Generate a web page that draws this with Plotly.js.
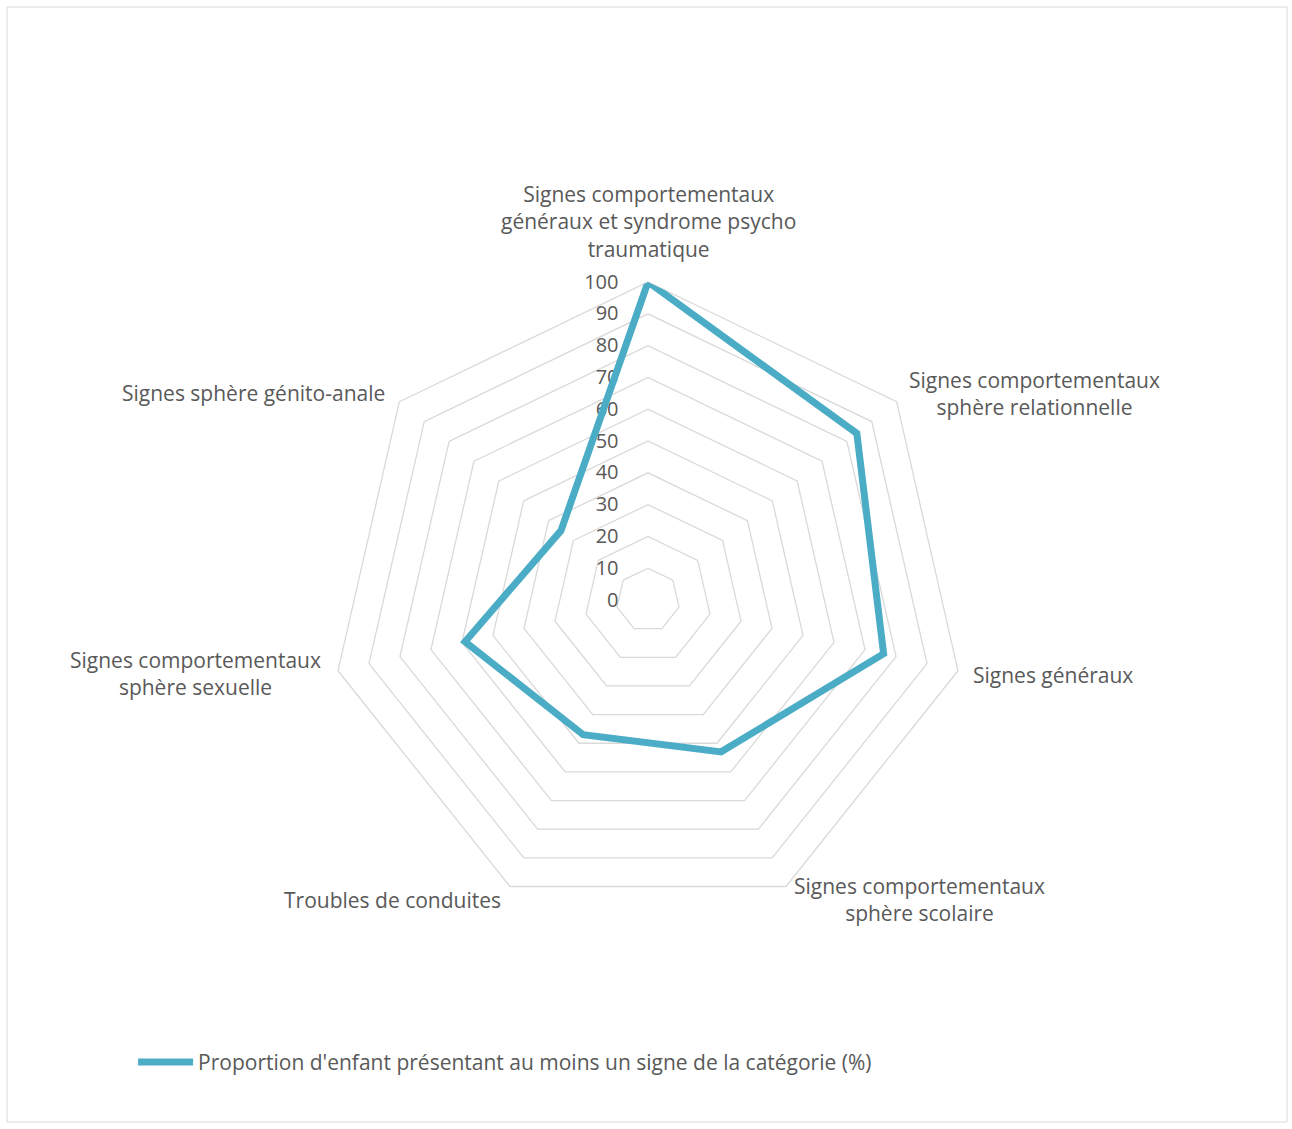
<!DOCTYPE html>
<html>
<head>
<meta charset="utf-8">
<script src="https://cdn.plot.ly/plotly-3.0.1.min.js"></script>
<style>html,body{margin:0;padding:0;background:#fff;}#chart{width:1292px;height:1129px;}</style>
</head>
<body>
<div id="chart"></div>
<script>
const categories = [
  "Signes comportementaux<br>généraux et syndrome psycho<br>traumatique",
  "Signes comportementaux<br>sphère relationnelle",
  "Signes généraux",
  "Signes comportementaux<br>sphère scolaire",
  "Troubles de conduites",
  "Signes comportementaux<br>sphère sexuelle",
  "Signes sphère génito-anale"
];
const values = [100, 84, 76, 53, 47, 59, 35];
const seriesName = "Proportion d'enfant présentant au moins un signe de la catégorie (%)";
const radialTicks = [0, 10, 20, 30, 40, 50, 60, 70, 80, 90, 100];

// geometry of the polar area (pixels)
const W = 1292, H = 1129;
const CX = 648, CY = 600, R = 318;
// label placement styles: [dx, dy, xanchor, yanchor] relative to outer vertex
const labelStyle = [
  [0, -17, 'center', 'bottom'],
  [10, -8, 'left', 'middle'],
  [13, 4, 'left', 'middle'],
  [6, 13, 'left', 'middle'],
  [-7, 13, 'right', 'middle'],
  [-15, 3, 'right', 'middle'],
  [-12, -9, 'right', 'middle']
];

const annotations = categories.map((c, i) => {
  const a = i * 2 * Math.PI / categories.length;
  const vx = CX + R * Math.sin(a), vy = CY - R * Math.cos(a);
  const s = labelStyle[i];
  return {
    text: c, showarrow: false, xref: 'paper', yref: 'paper',
    x: (vx + s[0]) / W, y: 1 - (vy + s[1]) / H,
    xanchor: s[2], yanchor: s[3], align: 'center',
    font: {size: 21, color: '#595959'}
  };
});

// close the loop (repeat first two points so the join at the top vertex is mitred)
const trace = {
  type: 'scatterpolar',
  mode: 'lines',
  r: values.concat(values.slice(0, 2)),
  theta: categories.concat(categories.slice(0, 2)),
  name: seriesName,
  line: {color: '#4bacc6', width: 7, shape: 'linear'},
  cliponaxis: false,
  hoverinfo: 'skip'
};

const layout = {
  width: W, height: H,
  margin: {l: 0, r: 0, t: 0, b: 0},
  paper_bgcolor: '#ffffff',
  font: {family: '"Open Sans", sans-serif', color: '#595959', size: 21},
  showlegend: true,
  legend: {orientation: 'h', x: 0.103, y: 0.059, xanchor: 'left', yanchor: 'middle',
           itemwidth: 55,
           font: {size: 21, color: '#595959'}, bgcolor: 'rgba(0,0,0,0)'},
  polar: {
    domain: {x: [(CX - R) / W, (CX + R) / W], y: [1 - (CY + R) / H, 1 - (CY - R) / H]},
    bgcolor: 'rgba(0,0,0,0)',
    gridshape: 'linear',
    angularaxis: {
      rotation: 90, direction: 'clockwise', layer: 'below traces',
      showgrid: false, showline: true, linecolor: '#d9d9d9', linewidth: 1.3,
      ticks: '', showticklabels: false
    },
    radialaxis: {
      range: [0, 100], tickvals: radialTicks, ticktext: radialTicks.map(String),
      angle: 90, side: 'counterclockwise', tickangle: 90, layer: 'below traces',
      showline: false, ticks: 'outside', ticklen: 22, tickcolor: 'rgba(0,0,0,0)',
      gridcolor: '#d9d9d9', gridwidth: 1.3,
      tickfont: {size: 20, color: '#595959'}
    }
  },
  annotations: annotations,
  shapes: [{type: 'rect', xref: 'paper', yref: 'paper',
            x0: 7 / W, x1: 1287 / W, y0: 1 - 1122 / H, y1: 1 - 7 / H,
            line: {color: '#d9d9d9', width: 1}}]
};

Plotly.newPlot('chart', [trace], layout, {displayModeBar: false, staticPlot: true});
</script>
</body>
</html>
